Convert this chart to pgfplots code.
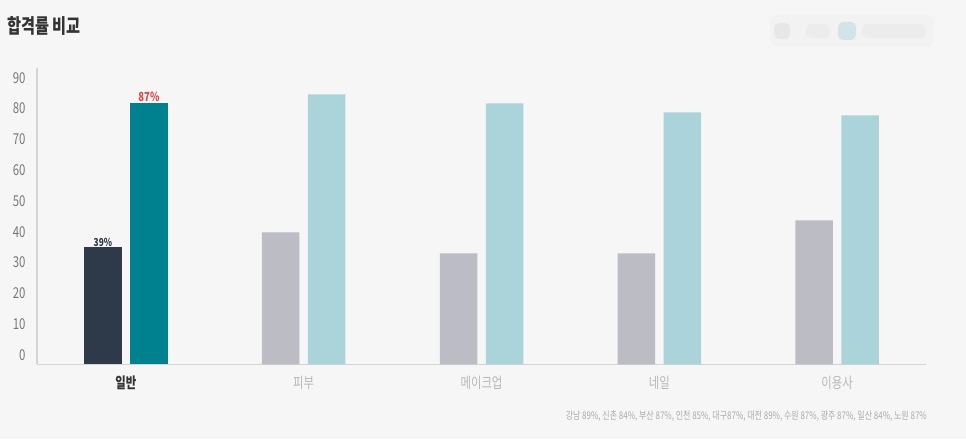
\documentclass[border=0pt]{standalone}
\usepackage{pgfplots}
\pgfplotsset{compat=1.18}
\usepackage{fontspec}
\setmainfont{Noto Sans CJK KR}
\newfontfamily\cf[FakeStretch=0.76]{Noto Sans CJK KR}

\definecolor{bg}{HTML}{F6F6F6}
\definecolor{titlec}{HTML}{333333}
\definecolor{navy}{HTML}{2E3A4A}
\definecolor{teal}{HTML}{00818F}
\definecolor{grayb}{HTML}{BBBCC4}
\definecolor{lightb}{HTML}{AAD3DA}
\definecolor{tickc}{HTML}{777777}
\definecolor{redl}{HTML}{E0474C}
\definecolor{axisc}{HTML}{D4D4D4}

\begin{document}
\begin{tikzpicture}
% page background, 966 x 439
\fill[bg] (0pt,0pt) rectangle (966pt,439pt);
% title
\node[anchor=west, inner sep=0pt, text=titlec, font=\cf\bfseries\fontsize{20}{22}\selectfont]
  at (7pt,413pt) {합격률 비교};
% blurred legend in the corner
\fill[black!5, rounded corners=8pt] (770pt,392pt) rectangle (934pt,424pt);
\fill[black!12, rounded corners=5pt, opacity=0.6] (774pt,400pt) rectangle (790pt,416pt);
\fill[black!9, rounded corners=5pt, opacity=0.6] (806pt,401pt) rectangle (830pt,415pt);
\fill[lightb, rounded corners=5pt, opacity=0.45] (838pt,399pt) rectangle (856pt,417pt);
\fill[black!9, rounded corners=5pt, opacity=0.6] (862pt,401pt) rectangle (926pt,415pt);

\begin{axis}[
    at={(37pt,74.7pt)}, anchor=south west,
    scale only axis,
    width=889pt, height=296.3pt,
    xmin=-0.5, xmax=4.5,
    ymin=0, ymax=98.8,
    ybar,
    axis lines*=left,
    axis line style={draw=axisc, line width=1.2pt},
    major tick length=0pt,
    /pgf/number format/assume math mode=true,
    xtick={0,1,2,3,4},
    xticklabels={{\color{titlec}\bfseries 일반},피부,메이크업,네일,이용사},
    xticklabel style={anchor=center, yshift=-19pt, text=black!28,
        font=\cf\fontsize{15}{16}\selectfont},
    ytick={3.1,13.4,23.6,33.9,44.2,54.5,64.7,75.0,85.3,95.5},
    yticklabels={0,10,20,30,40,50,60,70,80,90},
    yticklabel style={anchor=east, xshift=-8pt, text=tickc,
        font=\cf\fontsize{15}{16}\selectfont},
    clip=false,
]
% 일반 (highlighted)
\addplot[fill=navy, draw=none, bar width=37.5pt, bar shift=-23pt,
    nodes near coords={\pgfmathprintnumber{\pgfplotspointmeta}\%},
    every node near coord/.append style={anchor=center, yshift=5pt,
        text=navy, font=\cf\bfseries\fontsize{11}{12}\selectfont}]
  coordinates {(0,39)};
\addplot[fill=teal, draw=none, bar width=37.5pt, bar shift=23pt,
    nodes near coords={\pgfmathprintnumber{\pgfplotspointmeta}\%},
    every node near coord/.append style={anchor=center, yshift=7pt,
        text=redl, font=\cf\bfseries\fontsize{12.5}{13}\selectfont}]
  coordinates {(0,87)};
% other courses
\addplot[fill=grayb, draw=none, bar width=37.5pt, bar shift=-23pt]
  coordinates {(1,44) (2,37) (3,37) (4,48)};
\addplot[fill=lightb, draw=none, bar width=37.5pt, bar shift=23pt]
  coordinates {(1,90) (2,87) (3,84) (4,83)};
\end{axis}

% footnote
\node[anchor=east, inner sep=0pt, text=black!33, font=\cf\fontsize{10.5}{12}\selectfont]
  at (927pt,23pt) {강남 89\%, 신촌 84\%, 부산 87\%, 인천 85\%, 대구87\%, 대전 89\%, 수원 87\%, 광주 87\%, 일산 84\%, 노원 87\%};
\end{tikzpicture}
\end{document}
